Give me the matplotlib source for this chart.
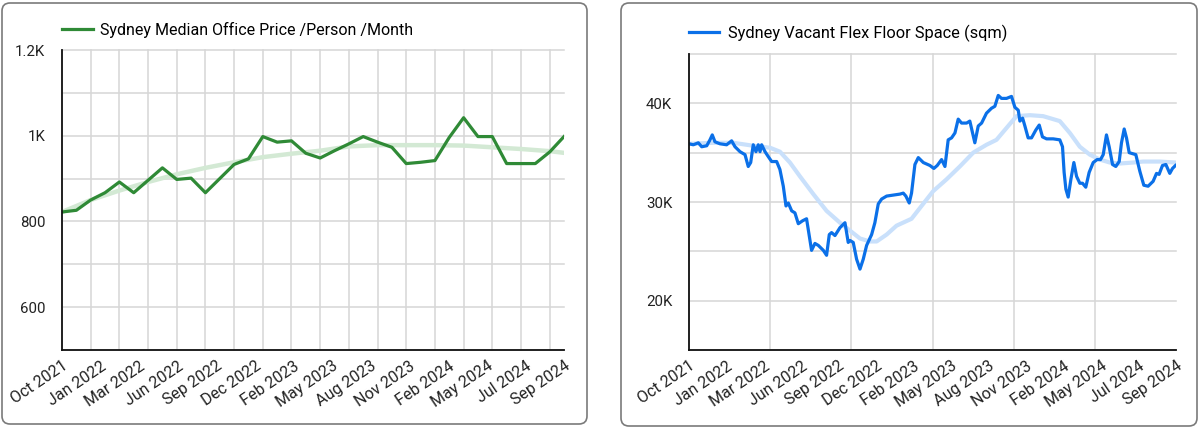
import numpy as np
import matplotlib
matplotlib.use("Agg")
import matplotlib.pyplot as plt
from matplotlib.patches import FancyBboxPatch
from matplotlib.transforms import IdentityTransform

plt.rcParams.update({
    "font.family": ["Roboto", "DejaVu Sans"],
    "font.size": 10,
    "xtick.labelsize": 11.5,
    "ytick.labelsize": 10.8,
})

# x labels shared by both panels
month_labels = ['Oct 2021', 'Jan 2022', 'Mar 2022', 'Jun 2022', 'Sep 2022',
                'Dec 2022', 'Feb 2023', 'May 2023', 'Aug 2023', 'Nov 2023',
                'Feb 2024', 'May 2024', 'Jul 2024', 'Sep 2024']

# left panel: monthly median price (months since Oct 2021)
price_months = list(range(36))
price_values = [822, 826, 850, 867, 892, 867, 896, 925, 898, 901, 867, 900,
                933, 946, 998, 985, 988, 959, 948, 965, 981, 998, 985, 973,
                935, 938, 942, 996, 1042, 998, 998, 935, 935, 935, 962, 998]
price_trend_months = [0, 2, 4, 6, 8, 10, 12, 14, 16, 18, 20, 22, 24, 26, 28,
                      30, 32, 34, 35]
price_trend = [822, 850, 872, 892, 910, 925, 938, 950, 958, 965, 975, 978,
               978, 978, 977, 973, 969, 964, 960]

# right panel: vacant flex floor space (K sqm), x in months since Oct 2021
space_t = [0.00, 0.32, 0.69, 0.94, 1.31, 1.55, 1.72, 1.92, 2.29, 2.78, 3.15,
           3.40, 3.77, 4.14, 4.38, 4.56, 4.75, 4.95, 5.12, 5.25, 5.37, 5.62,
           5.86, 6.11, 6.48, 6.72, 6.97, 7.17, 7.34, 7.59, 7.83, 8.08, 8.40,
           8.69, 8.82, 9.06, 9.31, 9.56, 9.93, 10.17, 10.37, 10.54, 10.79,
           11.16, 11.53, 11.77, 11.90, 12.14, 12.39, 12.64, 12.88, 13.13,
           13.50, 13.74, 13.99, 14.24, 14.61, 15.10, 15.59, 15.84, 16.03,
           16.28, 16.45, 16.70, 16.95, 17.32, 17.81, 18.10, 18.35, 18.67,
           18.92, 19.16, 19.41, 19.66, 19.90, 20.15, 20.52, 20.76, 20.96,
           21.13, 21.38, 21.63, 21.99, 22.36, 22.61, 22.86, 23.10, 23.47,
           23.84, 24.09, 24.34, 24.46, 24.66, 24.83, 25.07, 25.32, 25.64,
           25.89, 26.13, 26.43, 26.92, 27.41, 27.61, 27.73, 27.86, 28.03,
           28.23, 28.45, 28.65, 28.89, 29.09, 29.33, 29.58, 29.88, 30.17,
           30.42, 30.62, 30.86, 31.06, 31.31, 31.55, 31.80, 31.97, 32.17,
           32.34, 32.54, 32.78, 33.03, 33.33, 33.62, 33.94, 34.31, 34.56,
           34.75, 35.00, 35.25, 35.54, 35.74, 35.96]
space_k = [35.9, 35.8, 36.0, 35.6, 35.7, 36.3, 36.8, 36.1, 35.9, 35.8, 36.2,
           35.6, 35.1, 34.8, 33.6, 34.0, 35.8, 35.1, 35.8, 35.1, 35.8, 35.1,
           34.6, 34.1, 34.1, 33.3, 31.6, 29.6, 29.9, 29.1, 28.9, 27.8, 28.1,
           28.3, 27.2, 25.1, 25.8, 25.6, 25.1, 24.6, 26.7, 26.9, 26.6,
           27.4, 27.9, 25.9, 26.1, 25.9, 24.2, 23.2, 24.2, 25.6,
           26.7, 27.9, 29.8, 30.3, 30.6, 30.7, 30.8, 30.9, 30.6,
           29.9, 30.9, 33.8, 34.5, 34.0, 33.7, 33.4, 33.7, 34.3,
           33.6, 36.3, 36.5, 37.0, 38.4, 38.0, 38.0, 38.2, 37.0,
           36.0, 37.7, 38.0, 39.0, 39.5, 39.7, 40.8, 40.5, 40.5,
           40.7, 39.6, 39.3, 38.2, 38.5, 37.7, 36.5, 36.5, 37.3,
           37.8, 36.6, 36.4, 36.4, 36.3, 35.6, 33.0, 31.3, 30.5,
           32.3, 34.0, 32.6, 31.9, 31.9, 31.5, 33.0, 34.0, 34.3,
           34.3, 34.8, 36.8, 35.6, 33.8, 33.6, 34.1, 36.0, 37.4,
           36.5, 35.0, 34.9, 34.8, 33.1, 31.7, 31.6, 32.1, 32.9,
           32.8, 33.7, 33.8, 32.9, 33.4, 33.7]
space_trend_t = [0.00, 1.80, 3.28, 4.75, 5.99, 6.72, 7.46, 8.20, 9.19, 10.17,
                 11.16, 11.90, 12.64, 13.37, 13.87, 14.61, 15.34, 16.45, 17.19,
                 18.05, 19.04, 20.02, 21.01, 21.99, 22.73, 23.47, 24.21, 25.20,
                 26.18, 27.41, 28.15, 28.89, 29.63, 30.37, 31.11, 31.85, 32.83,
                 33.57, 34.80, 35.96]
space_trend = [35.9, 36.0, 36.0, 35.7, 35.5, 35.1, 34.0, 32.6, 30.8, 29.1,
               27.9, 27.1, 26.3, 26.0, 26.0, 26.7, 27.6, 28.3, 29.6,
               31.1, 32.3, 33.6, 35.0, 35.8, 36.3, 37.5, 38.7, 38.8,
               38.7, 38.2, 37.0, 35.6, 34.8, 34.3, 34.0, 33.9, 34.0,
               34.1, 34.1, 34.0]

W, H = 1200, 428
fig = plt.figure(figsize=(W / 100, H / 100), dpi=100)

# rounded panel frames (pixel coords)
for x0, y0, w, h in [(2, 4, 585, 421), (621, 2, 576, 423)]:
    fig.add_artist(FancyBboxPatch((x0, y0), w, h,
                                  boxstyle="round,pad=0,rounding_size=8",
                                  transform=IdentityTransform(),
                                  fc='none', ec='#7a7a7a', lw=1.2, zorder=-5))


def style_axes(ax, xmax, grid_step):
    ax.set_facecolor('none')
    ax.xaxis.remove_overlapping_locs = False
    ax.yaxis.remove_overlapping_locs = False
    ax.set_xlim(0, xmax)
    ax.set_xticks(np.linspace(0, xmax, len(month_labels)))
    ax.set_xticklabels(month_labels, rotation=34, ha='right', va='top',
                       rotation_mode='anchor')
    ax.set_xticks(np.arange(0, xmax - 0.01, grid_step), minor=True)
    ax.grid(which='minor', color='#d6d6d6', lw=1.1, clip_on=False)
    ax.grid(which='major', visible=False)
    ax.tick_params(which='both', length=0)
    ax.tick_params(axis='x', pad=6, colors='#222')
    ax.tick_params(axis='y', pad=12, colors='#222')
    for s in ['top', 'right']:
        ax.spines[s].set_visible(False)
    for s in ['left', 'bottom']:
        ax.spines[s].set_linewidth(1.3)
        ax.spines[s].set_color('#111')
    ax.set_axisbelow(True)


# left panel
ax1 = fig.add_axes([62 / W, 1 - 350 / H, 502 / W, 300 / H])
style_axes(ax1, 35, 2)
ax1.set_ylim(500, 1200)
ax1.set_yticks(np.arange(500, 1201, 100), minor=True)
ax1.set_yticks([600, 800, 1000, 1200])
ax1.set_yticklabels(['600', '800', '1K', '1.2K'])
ax1.plot(price_trend_months, price_trend, color='#d3e9d4', lw=3.2,
         solid_capstyle='round')
ax1.plot(price_months, price_values, color='#2f8a36', lw=2.3,
         solid_joinstyle='round', label='Sydney Median Office Price /Person /Month')
ax1.legend(loc='center left', bbox_to_anchor=(0, 1 + 20 / 300), frameon=False,
           borderpad=0, borderaxespad=0, handlelength=1.95, handletextpad=0.45,
           fontsize=11.5)

# right panel
ax2 = fig.add_axes([689 / W, 1 - 350 / H, 487 / W, 296 / H])
style_axes(ax2, 36, 6)
ax2.set_ylim(15, 45)
ax2.set_yticks(np.arange(15, 45.1, 5), minor=True)
ax2.set_yticks([20, 30, 40])
ax2.set_yticklabels(['20K', '30K', '40K'])
ax2.plot(space_trend_t, space_trend, color='#c9e0fb', lw=3.0,
         solid_capstyle='round')
ax2.plot(space_t, space_k, color='#0b70e8', lw=2.3, solid_joinstyle='round',
         label='Sydney Vacant Flex Floor Space (sqm)')
ax2.legend(loc='center left', bbox_to_anchor=(0, 1 + 21 / 296), frameon=False,
           borderpad=0, borderaxespad=0, handlelength=1.8, handletextpad=0.55,
           fontsize=11.8)

fig.savefig('out.png', dpi=100)
